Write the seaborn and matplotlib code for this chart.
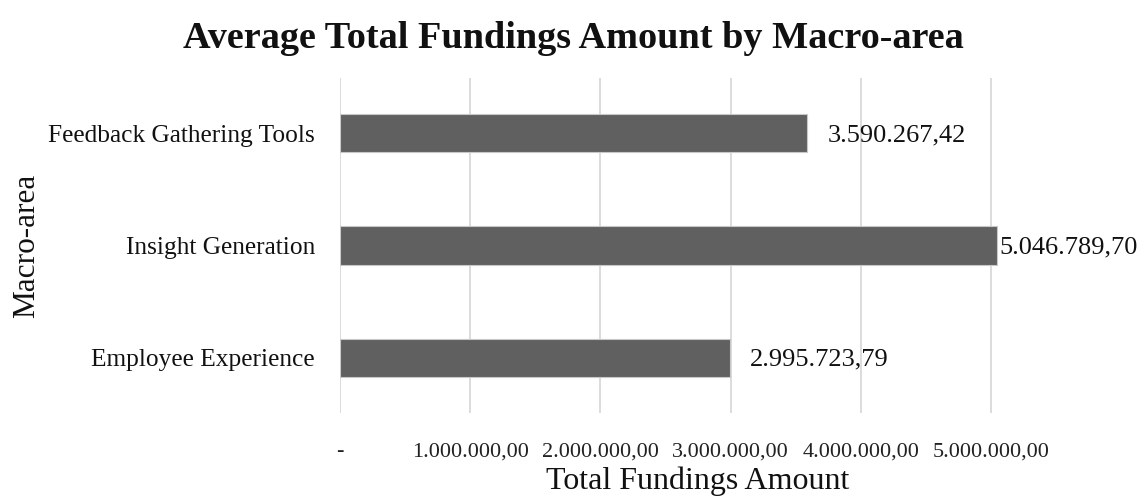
import matplotlib
matplotlib.use("Agg")
import matplotlib.pyplot as plt
import seaborn as sns
import pandas as pd
from matplotlib.ticker import FuncFormatter

categories = ["Feedback Gathering Tools", "Insight Generation", "Employee Experience"]
values = [3590267.42, 5046789.70, 2995723.79]
x_ticks = [0, 1000000, 2000000, 3000000, 4000000, 5000000]

title = "Average Total Fundings Amount by Macro-area"
x_label = "Total Fundings Amount"
y_label = "Macro-area"


def eu_fmt(v):
    s = f"{v:,.2f}"
    return s.replace(",", "X").replace(".", ",").replace("X", ".")


sns.set_theme(style="white")
plt.rcParams["font.family"] = ["Liberation Serif", "DejaVu Serif"]

df = pd.DataFrame({"cat": categories, "val": values})

fig = plt.figure(figsize=(11.47, 5.0), dpi=100)
ax = fig.add_axes([0.2964, 0.174, 0.6243, 0.670])

sns.barplot(data=df, x="val", y="cat", order=categories, orient="h",
            color="#606060", width=0.34, edgecolor="#c8c8c8", linewidth=0.8,
            saturation=1, ax=ax, zorder=3)

ax.set_xlim(0, 5.5e6)
ax.set_ylim(2.49, -0.49)
ax.set_xticks(x_ticks)
ax.xaxis.set_major_formatter(FuncFormatter(lambda v, p: "-" if v == 0 else eu_fmt(v)))
ax.grid(axis="x", color="#d9d9d9", linewidth=1.3, zorder=0)
ax.grid(axis="y", visible=False)
for s in ax.spines.values():
    s.set_visible(False)
ax.tick_params(axis="both", length=0)
ax.tick_params(axis="x", labelsize=16, pad=21, colors="#222222")
ax.tick_params(axis="y", labelsize=18.3, pad=18, colors="#111111")

pads = [20, 2, 20]
for i, (v, pd_) in enumerate(zip(values, pads)):
    ax.annotate(eu_fmt(v), xy=(v, i), xytext=(pd_, -2), textcoords="offset pixels",
                ha="left", va="center", fontsize=19, color="#111111")

ax.set_xlabel(x_label, fontsize=23, labelpad=4, color="#111111")
ax.set_ylabel(y_label, fontsize=22.5, labelpad=0, color="#111111")
ax.yaxis.set_label_coords(-0.418, 0.5)
fig.suptitle(title, fontsize=27.5, fontweight="bold", y=0.957, x=0.5, color="#111111")

fig.savefig("out.png", dpi=100)
